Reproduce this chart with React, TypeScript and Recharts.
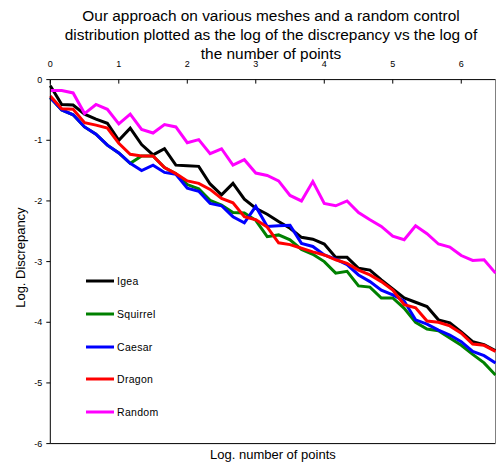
import { LineChart, Line, XAxis, YAxis, Legend, ReferenceLine, Label } from 'recharts'

// log of the number of points (step of 1/6)
const LOG_POINTS = [
  0, 0.167, 0.333, 0.5, 0.667, 0.833, 1, 1.167, 1.333, 1.5,
  1.667, 1.833, 2, 2.167, 2.333, 2.5, 2.667, 2.833, 3, 3.167,
  3.333, 3.5, 3.667, 3.833, 4, 4.167, 4.333, 4.5, 4.667, 4.833,
  5, 5.167, 5.333, 5.5, 5.667, 5.833, 6, 6.167, 6.333, 6.5,
]

const IGEA = [
  -0.10, -0.41, -0.42, -0.57, -0.65, -0.72, -1.0, -0.80, -1.07, -1.24,
  -1.14, -1.41, -1.42, -1.43, -1.72, -1.90, -1.71, -1.97, -2.12, -2.22,
  -2.34, -2.45, -2.60, -2.63, -2.71, -2.93, -2.93, -3.11, -3.14, -3.30,
  -3.45, -3.60, -3.67, -3.74, -3.96, -4.01, -4.16, -4.32, -4.37, -4.47,
]
const SQUIRREL = [
  -0.30, -0.50, -0.58, -0.78, -0.90, -1.08, -1.21, -1.38, -1.26, -1.26,
  -1.45, -1.55, -1.73, -1.80, -1.99, -2.07, -2.19, -2.20, -2.32, -2.59,
  -2.56, -2.64, -2.80, -2.88, -3.00, -3.19, -3.16, -3.40, -3.42, -3.60,
  -3.60, -3.77, -4.00, -4.11, -4.14, -4.26, -4.38, -4.53, -4.67, -4.87,
]
const CAESAR = [
  -0.30, -0.50, -0.58, -0.78, -0.90, -1.08, -1.21, -1.38, -1.50, -1.41,
  -1.53, -1.56, -1.79, -1.84, -2.04, -2.08, -2.26, -2.36, -2.09, -2.42,
  -2.41, -2.40, -2.70, -2.75, -2.89, -2.96, -3.05, -3.22, -3.33, -3.47,
  -3.55, -3.65, -3.96, -4.03, -4.13, -4.21, -4.32, -4.48, -4.55, -4.67,
]
const DRAGON = [
  -0.27, -0.48, -0.49, -0.71, -0.75, -0.80, -1.05, -1.23, -1.26, -1.26,
  -1.45, -1.55, -1.67, -1.71, -1.81, -1.96, -2.03, -2.26, -2.31, -2.43,
  -2.69, -2.72, -2.78, -2.84, -2.89, -2.97, -3.03, -3.14, -3.22, -3.33,
  -3.47, -3.71, -3.76, -3.98, -4.00, -4.06, -4.18, -4.36, -4.38, -4.48,
]
const RANDOM = [
  -0.18, -0.18, -0.22, -0.56, -0.41, -0.49, -0.73, -0.57, -0.82, -0.88,
  -0.74, -0.78, -1.04, -0.99, -1.22, -1.14, -1.41, -1.32, -1.54, -1.58,
  -1.67, -1.91, -2.00, -1.68, -2.04, -2.08, -2.00, -2.19, -2.31, -2.42,
  -2.58, -2.64, -2.41, -2.54, -2.71, -2.76, -2.90, -2.98, -2.97, -3.19,
]

const X_TICKS = [0, 1, 2, 3, 4, 5, 6]
const Y_TICKS = [0, -1, -2, -3, -4, -5, -6]

const SERIES = [
  { key: 'igea', name: 'Igea', color: '#000000', values: IGEA },
  { key: 'squirrel', name: 'Squirrel', color: '#008000', values: SQUIRREL },
  { key: 'caesar', name: 'Caesar', color: '#0000FF', values: CAESAR },
  { key: 'dragon', name: 'Dragon', color: '#FF0000', values: DRAGON },
  { key: 'random', name: 'Random', color: '#FF00FF', values: RANDOM },
]

const FONT = '"Liberation Sans", Arial, sans-serif'

const data = LOG_POINTS.map((x, i) => {
  const row: Record<string, number> = { x }
  SERIES.forEach(s => { row[s.key] = s.values[i] })
  return row
})

// legend in series order (recharts sorts the payload by name otherwise)
function LegendBox() {
  return (
    <div style={{ fontFamily: FONT, fontSize: 10.5, letterSpacing: 0.3 }}>
      {SERIES.map(s => (
        <div key={s.key} style={{ height: 32.7, display: 'flex', alignItems: 'center' }}>
          <svg width={29} height={6} style={{ marginRight: 2 }}>
            <line x1={0} y1={3} x2={28} y2={3} stroke={s.color} strokeWidth={3} />
          </svg>
          <span>{s.name}</span>
        </div>
      ))}
    </div>
  )
}

export default function App() {
  return (
    <div style={{ position: 'absolute', left: 0, top: 0, width: 496, height: 473, background: '#fff' }}>
      <div style={{
        position: 'absolute', left: 21, top: 5.5, width: 500, textAlign: 'center',
        fontFamily: FONT, fontSize: 15.4, lineHeight: '19px', whiteSpace: 'nowrap', color: '#000',
      }}>
        <div>Our approach on various meshes and a random control</div>
        <div>distribution plotted as the log of the discrepancy vs the log of</div>
        <div>the number of points</div>
      </div>
      <LineChart width={496} height={473} data={data} margin={{ top: 49.6, right: 0.5, bottom: 29.4, left: 0.3 }}>
        <XAxis
          dataKey="x" type="number" orientation="top" domain={[0, 6.5]} ticks={X_TICKS}
          height={30} tickSize={-4} tickMargin={16.6} stroke="#000"
          tick={{ fontSize: 9, fill: '#000', fontFamily: FONT }}
        />
        <YAxis
          type="number" domain={[-6, 0]} ticks={Y_TICKS} width={50}
          tickSize={4} tickMargin={4} stroke="#000"
          tick={{ fontSize: 9, fill: '#000', fontFamily: FONT }}
        >
          <Label
            content={(props: any) => {
              const vb = props.viewBox || { x: 0, y: 0, height: 0 }
              const cx = vb.x + 20
              const cy = vb.y + vb.height / 2 - 4
              return (
                <text x={cx} y={cy} transform={`rotate(-90, ${cx}, ${cy})`} textAnchor="middle" dominantBaseline="central"
                  fontSize={13} fontFamily={FONT} fill="#000">Log. Discrepancy</text>
              )
            }}
          />
        </YAxis>
        <ReferenceLine y={-6} stroke="#000" strokeWidth={1}
          label={{ value: 'Log. number of points', position: 'bottom', offset: 6, fontSize: 13, fontFamily: FONT, fill: '#000' }} />
        <ReferenceLine x={6.5} stroke="#808080" strokeWidth={1} />
        <Legend
          layout="vertical" align="center" verticalAlign="middle"
          wrapperStyle={{ left: 86, top: 265, width: 'auto' }}
          content={() => <LegendBox />}
        />
        {SERIES.map(s => (
          <Line key={s.key} type="linear" dataKey={s.key} name={s.name} stroke={s.color}
            strokeWidth={3} dot={false} isAnimationActive={false} />
        ))}
      </LineChart>
    </div>
  )
}
